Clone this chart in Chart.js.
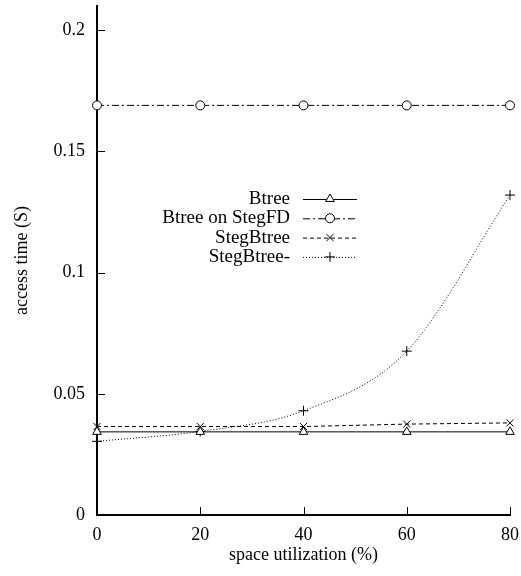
<!DOCTYPE html>
<html>
<head>
<meta charset="utf-8">
<script src="https://cdn.jsdelivr.net/npm/chart.js@4/dist/chart.umd.min.js"></script>
<style>
    html, body { margin: 0; padding: 0; background: #fff; }
    #accessChart { display: block; }
</style>
</head>
<body>
<canvas id="accessChart" width="521" height="576"></canvas>
<script>
// Data
const utilization = [0, 20, 40, 60, 80];
const xTicks = [0, 20, 40, 60, 80];
const yTicks = [0, 0.05, 0.1, 0.15, 0.2];

const btree = [0.0343, 0.0343, 0.0343, 0.0343, 0.0343];
const btreeOnStegFD = [0.169, 0.169, 0.169, 0.169, 0.169];
const stegBtree = [0.0365, 0.0365, 0.0365, 0.0375, 0.038];
const stegBtreeMinus = [0.0304, 0.0345, 0.043, 0.0676, 0.132];

const seriesLabels = ['Btree', 'Btree on StegFD', 'StegBtree', 'StegBtree-'];

const FONT = "'Liberation Serif', 'DejaVu Serif', serif";

function toPoints(values) {
    return utilization.map((x, i) => ({ x: x, y: values[i] }));
}

// Inward tick marks, gnuplot style
const inwardTicks = {
    id: 'inwardTicks',
    afterDraw(chart) {
        const ctx = chart.ctx;
        const area = chart.chartArea;
        const len = 8;
        ctx.save();
        ctx.strokeStyle = '#000';
        ctx.lineWidth = 1;
        ctx.beginPath();
        xTicks.forEach(v => {
            const px = Math.round(chart.scales.x.getPixelForValue(v)) + 0.5;
            ctx.moveTo(px, area.bottom);
            ctx.lineTo(px, area.bottom - len);
        });
        yTicks.forEach(v => {
            const py = Math.round(chart.scales.y.getPixelForValue(v)) + 0.5;
            ctx.moveTo(area.left, py);
            ctx.lineTo(area.left + len, py);
        });
        ctx.stroke();
        ctx.restore();
    }
};

// Legend with the text on the left and the line sample on the right
const keyLegend = {
    id: 'keyLegend',
    afterDraw(chart) {
        const ctx = chart.ctx;
        const area = chart.chartArea;
        const textRight = area.left + 193;
        const sampleStart = area.left + 206;
        const sampleEnd = area.left + 260;
        const top = area.top + 193;
        const rowHeight = 19.3;

        ctx.save();
        chart.data.datasets.forEach((ds, i) => {
            const y = top + i * rowHeight;
            ctx.fillStyle = '#000';
            ctx.font = '19px ' + FONT;
            ctx.textAlign = 'right';
            ctx.textBaseline = 'middle';
            ctx.fillText(ds.label, textRight, y);

            ctx.strokeStyle = '#000';
            ctx.lineWidth = 1;
            ctx.setLineDash(ds.borderDash || []);
            ctx.beginPath();
            ctx.moveTo(sampleStart, y + 0.5);
            ctx.lineTo(sampleEnd, y + 0.5);
            ctx.stroke();
            ctx.setLineDash([]);

            ctx.fillStyle = ds.pointBackgroundColor;
            Chart.helpers.drawPoint(ctx, {
                pointStyle: ds.pointStyle,
                radius: ds.pointRadius,
                borderWidth: 1,
                rotation: 0
            }, (sampleStart + sampleEnd) / 2, y);
        });
        ctx.restore();
    }
};

function makeDataset(label, values, pointStyle, dash, radius, extra) {
    return Object.assign({
        label: label,
        data: toPoints(values),
        borderColor: '#000',
        borderWidth: 1,
        borderDash: dash,
        pointStyle: pointStyle,
        pointRadius: radius,
        pointBorderColor: '#000',
        pointBackgroundColor: 'rgba(255,255,255,1)',
        pointBorderWidth: 1,
        fill: false,
        tension: 0,
        clip: false
    }, extra || {});
}

const ctx = document.getElementById('accessChart').getContext('2d');

window.myChart = new Chart(ctx, {
    type: 'line',
    data: {
        datasets: [
            makeDataset(seriesLabels[0], btree, 'triangle', [], 5),
            makeDataset(seriesLabels[1], btreeOnStegFD, 'circle', [7, 3, 2, 3], 4.5),
            makeDataset(seriesLabels[2], stegBtree, 'crossRot', [4, 3], 5),
            makeDataset(seriesLabels[3], stegBtreeMinus, 'cross', [1, 2], 5, { cubicInterpolationMode: 'monotone' })
        ]
    },
    options: {
        responsive: false,
        animation: false,
        devicePixelRatio: 1,
        layout: { padding: { top: 6, right: 11, left: 0, bottom: 0 } },
        plugins: {
            legend: { display: false },
            tooltip: { enabled: false }
        },
        scales: {
            x: {
                type: 'linear',
                min: 0,
                max: 80,
                afterFit: scale => {
                    scale.height = 61;
                    scale.paddingLeft = 0;
                    scale.paddingRight = 0;
                },
                afterBuildTicks: scale => { scale.ticks = xTicks.map(v => ({ value: v })); },
                grid: { drawOnChartArea: false, drawTicks: false },
                border: { display: true, color: '#000', width: 2 },
                ticks: {
                    color: '#000',
                    font: { family: FONT, size: 18 },
                    padding: 9,
                    maxRotation: 0
                },
                title: {
                    display: true,
                    text: 'space utilization (%)',
                    color: '#000',
                    font: { family: FONT, size: 18 },
                    padding: { top: 0, bottom: 10 }
                }
            },
            y: {
                type: 'linear',
                min: 0,
                max: 0.21,
                afterFit: scale => {
                    scale.width = 97;
                    scale.paddingTop = 0;
                    scale.paddingBottom = 0;
                },
                afterBuildTicks: scale => { scale.ticks = yTicks.map(v => ({ value: v })); },
                grid: { drawOnChartArea: false, drawTicks: false },
                border: { display: true, color: '#000', width: 2 },
                ticks: {
                    color: '#000',
                    font: { family: FONT, size: 18 },
                    padding: 12,
                    callback: value => String(Math.round(value * 100) / 100)
                },
                title: {
                    display: true,
                    text: 'access time (S)',
                    color: '#000',
                    font: { family: FONT, size: 18 },
                    padding: { top: 11, bottom: 0 }
                }
            }
        }
    },
    plugins: [inwardTicks, keyLegend]
});
</script>
</body>
</html>
